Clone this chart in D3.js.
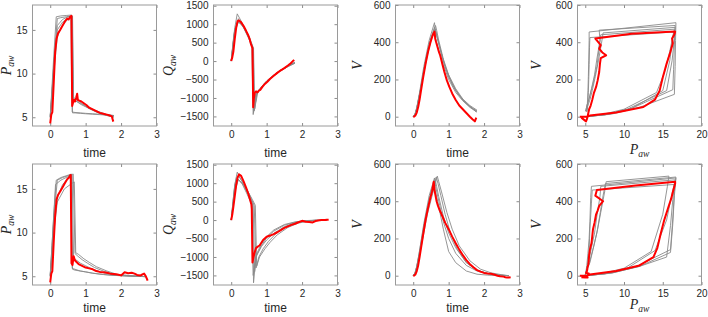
<!DOCTYPE html>
<html>
<head>
<meta charset="utf-8">
<script src="https://cdn.jsdelivr.net/npm/d3@7"></script>
<style>
  body { margin: 0; background: #fff; }
  .tick text { font-family: "Liberation Sans", Arial, sans-serif; font-size: 10px; fill: #262626; }
  .xlab { font-family: "Liberation Sans", Arial, sans-serif; font-size: 12px; fill: #262626; }
  .mlab { font-family: "Liberation Serif", "DejaVu Serif", serif; font-style: italic; fill: #262626; }
</style>
</head>
<body>
<svg id="fig" width="708" height="317"></svg>
<script>
// ---- tick labels ----
var timeTicks = [0, 1, 2, 3]
var pawTicks = [5, 10, 15]
var qawTicks = [-1500, -1000, -500, 0, 500, 1000, 1500]
var vTicks = [0, 200, 400, 600]
var pawLoopTicks = [5, 10, 15, 20]

// ---- top row: grey breaths (one inner array per breath) ----
var topGrayTime = [
  [0, 0.05, 0.1, 0.17, 0.3, 0.45, 0.6, 0.63, 0.7, 0.85, 1.0, 1.2, 1.4, 1.6, 1.8],
  [0, 0.05, 0.1, 0.2, 0.3, 0.45, 0.6, 0.65, 0.72, 0.85, 1.0, 1.2, 1.4, 1.6, 1.78],
  [0, 0.05, 0.1, 0.2, 0.3, 0.4, 0.5, 0.62, 0.66, 0.75, 0.9, 1.1, 1.3, 1.5, 1.7, 1.8],
  [0, 0.05, 0.1, 0.2, 0.35, 0.5, 0.58, 0.62, 0.7, 0.85, 1.0, 1.2, 1.4, 1.6, 1.8],
  [0, 0.05, 0.1, 0.2, 0.35, 0.5, 0.63, 0.66, 0.72, 0.85, 1.0, 1.2, 1.4, 1.6, 1.8]
]
var topGrayPaw = [
  [5.0, 8.5, 12.0, 16.5, 16.6, 16.65, 16.7, 5.5, 5.5, 5.45, 5.4, 5.35, 5.3, 5.25, 5.2],
  [5.1, 7.8, 11.0, 16.3, 16.4, 16.5, 16.6, 7.3, 7.1, 6.7, 6.3, 5.9, 5.6, 5.3, 5.1],
  [5.0, 7.0, 10.0, 14.2, 15.2, 15.8, 16.2, 16.5, 7.0, 6.8, 6.5, 6.0, 5.6, 5.3, 5.1, 5.0],
  [5.2, 8.0, 11.0, 15.0, 15.9, 16.3, 16.4, 5.6, 5.55, 5.5, 5.45, 5.4, 5.35, 5.3, 5.2],
  [5.0, 7.5, 10.5, 15.5, 16.2, 16.5, 16.6, 6.8, 6.9, 6.5, 6.2, 5.8, 5.5, 5.2, 5.1]
]
var topGrayQaw = [
  [0, 500, 900, 1280, 1050, 750, 400, -1400, -900, -720, -560, -400, -260, -150, -60],
  [0, 450, 850, 1150, 1000, 720, 380, -1350, -880, -700, -540, -380, -240, -130, -40],
  [0, 400, 800, 1050, 1000, 850, 650, 330, -1300, -850, -650, -470, -320, -190, -80, -30],
  [0, 450, 850, 1080, 900, 600, 400, -1450, -880, -700, -540, -380, -240, -130, -50],
  [0, 420, 820, 1100, 950, 680, 350, -1300, -900, -720, -560, -400, -260, -150, -50]
]
var topGrayV = [
  [0, 15, 50, 120, 270, 410, 505, 455, 410, 300, 215, 140, 90, 55, 30],
  [0, 12, 45, 145, 255, 390, 480, 450, 395, 300, 215, 140, 90, 55, 25],
  [0, 10, 40, 130, 235, 330, 410, 470, 440, 370, 270, 175, 115, 70, 40, 30],
  [0, 12, 45, 140, 300, 420, 455, 425, 370, 280, 200, 130, 85, 50, 25],
  [0, 10, 42, 140, 300, 420, 490, 465, 410, 310, 225, 150, 95, 60, 35]
]

// ---- top row: highlighted breath ----
var topRedTime = [0, 0.03, 0.06, 0.1, 0.14, 0.18, 0.22, 0.28, 0.35, 0.42, 0.48, 0.52, 0.56, 0.6, 0.61, 0.62, 0.64, 0.67, 0.7, 0.73, 0.76, 0.78, 0.82, 0.88, 0.95, 1.02, 1.1, 1.2, 1.3, 1.4, 1.5, 1.6, 1.68, 1.74, 1.78]
var topRedPaw = [4.3, 5.3, 5.6, 9.0, 12.5, 14.0, 14.6, 15.0, 15.5, 16.0, 16.3, 16.2, 16.5, 16.6, 11.0, 6.3, 6.6, 7.0, 6.8, 7.2, 7.7, 7.0, 6.9, 6.8, 6.6, 6.4, 6.1, 5.9, 5.7, 5.5, 5.4, 5.3, 5.2, 5.1, 4.5]
var topRedQaw = [0, 100, 250, 600, 900, 1080, 1100, 1050, 950, 820, 700, 600, 450, 350, -400, -1250, -1000, -850, -820, -850, -830, -800, -780, -700, -620, -560, -480, -400, -320, -250, -190, -120, -60, 0, 30]
var topRedV = [0, 1, 6, 22, 52, 92, 140, 210, 285, 350, 395, 420, 442, 457, 445, 420, 405, 385, 365, 345, 330, 315, 285, 240, 195, 160, 125, 90, 60, 40, 20, 0, -15, -25, -5]

// ---- bottom row: grey breaths ----
var botGrayTime = [
  [0, 0.05, 0.1, 0.17, 0.3, 0.45, 0.6, 0.63, 0.7, 0.85, 1.0, 1.2, 1.5, 1.8, 2.1, 2.4, 2.7],
  [0, 0.05, 0.1, 0.2, 0.4, 0.6, 0.68, 0.72, 0.8, 0.95, 1.1, 1.3, 1.6, 1.9, 2.2, 2.5, 2.7],
  [0, 0.05, 0.1, 0.2, 0.35, 0.5, 0.65, 0.7, 0.78, 0.9, 1.05, 1.25, 1.5, 1.8, 2.1, 2.4, 2.6],
  [0, 0.05, 0.1, 0.15, 0.3, 0.45, 0.58, 0.62, 0.7, 0.85, 1.0, 1.2, 1.5, 1.8, 2.1, 2.4],
  [0, 0.05, 0.1, 0.2, 0.35, 0.5, 0.62, 0.66, 0.72, 0.85, 1.0, 1.2, 1.5, 1.8, 2.1, 2.5, 2.7]
]
var botGrayPaw = [
  [5.0, 8.5, 12.0, 16.0, 16.3, 16.5, 16.7, 5.8, 5.7, 5.6, 5.5, 5.35, 5.2, 5.1, 5.05, 5.0, 4.95],
  [5.0, 7.0, 10.0, 13.5, 15.0, 15.6, 15.8, 7.7, 7.5, 7.0, 6.6, 6.1, 5.6, 5.2, 5.1, 5.0, 4.95],
  [5.1, 8.0, 11.5, 16.0, 16.3, 16.5, 16.7, 7.6, 7.3, 6.9, 6.5, 6.0, 5.6, 5.2, 5.1, 5.0, 5.0],
  [5.2, 8.5, 12.0, 15.5, 16.0, 16.3, 16.5, 5.9, 5.8, 5.6, 5.5, 5.35, 5.2, 5.1, 5.05, 5.0],
  [5.0, 7.5, 10.5, 14.0, 15.5, 16.2, 16.6, 7.0, 6.9, 6.5, 6.2, 5.8, 5.4, 5.15, 5.05, 5.0, 4.95]
]
var botGrayQaw = [
  [0, 500, 950, 1300, 1050, 750, 450, -1700, -1000, -700, -480, -300, -140, -60, -20, -5, 0],
  [0, 380, 750, 1100, 900, 550, 400, -1250, -1000, -780, -600, -400, -200, -80, -30, -10, 0],
  [0, 450, 900, 1200, 1000, 720, 400, -1300, -1000, -780, -580, -380, -200, -80, -25, -5, 0],
  [0, 500, 950, 1150, 1000, 700, 420, -1500, -950, -650, -450, -270, -120, -50, -15, 0],
  [0, 420, 820, 1100, 950, 680, 420, -1400, -950, -720, -540, -360, -180, -70, -20, -5, 0]
]
var botGrayV = [
  [0, 15, 50, 125, 280, 430, 525, 480, 420, 290, 200, 120, 55, 25, 10, 3, 0],
  [0, 10, 40, 130, 330, 480, 535, 505, 450, 340, 250, 160, 80, 35, 15, 5, 0],
  [0, 12, 48, 140, 310, 450, 530, 495, 430, 330, 230, 140, 70, 30, 12, 4, 0],
  [0, 15, 50, 100, 270, 410, 490, 460, 390, 250, 130, 70, 25, 8, 3, 0],
  [0, 10, 42, 135, 300, 440, 515, 480, 425, 320, 230, 150, 70, 30, 12, 3, 0]
]

// ---- bottom row: highlighted breath ----
var botRedTime = [0, 0.03, 0.06, 0.1, 0.14, 0.18, 0.22, 0.28, 0.35, 0.42, 0.48, 0.53, 0.57, 0.58, 0.59, 0.6, 0.63, 0.66, 0.7, 0.75, 0.8, 0.9, 1.0, 1.1, 1.2, 1.3, 1.4, 1.5, 1.6, 1.7, 1.8, 1.9, 2.0, 2.1, 2.2, 2.3, 2.38, 2.45, 2.55, 2.6, 2.65, 2.7, 2.75]
var botRedPaw = [4.3, 5.3, 5.6, 9.0, 12.0, 13.8, 14.3, 14.7, 15.2, 15.7, 16.1, 16.3, 16.6, 16.6, 11.5, 6.5, 6.3, 7.3, 6.8, 6.6, 6.4, 6.2, 6.0, 5.9, 5.8, 5.6, 5.5, 5.45, 5.4, 5.3, 5.25, 5.2, 5.1, 5.45, 5.35, 5.4, 5.3, 5.15, 5.1, 5.2, 5.3, 5.0, 4.5]
var botRedQaw = [0, 150, 350, 650, 950, 1150, 1240, 1200, 1050, 880, 720, 560, 420, 300, -400, -1150, -1000, -880, -760, -720, -690, -540, -450, -420, -380, -330, -270, -210, -170, -130, -100, -60, -20, -45, -55, -63, -27, -10, 0, 5, 0, 10, 10]
var botRedV = [0, 1, 6, 25, 55, 100, 148, 220, 300, 365, 415, 450, 495, 505, 485, 460, 430, 400, 375, 350, 330, 285, 250, 210, 174, 140, 110, 84, 62, 45, 30, 22, 15, 12, 10, 5, 0, -3, -5, -8, -10, -10, -8]

// ---- layout ----
var svg = d3.select('svg#fig')
var rowTop = [5, 164]
var xLabelGap = [31, 27]
var colLeft = [32.5, 213.5, 395.5, 577.5]
var boxW = 124, boxH = 121
var yLabelX = [-22, -41, -34, -37]

var panels = [
  {x: 't', y: 'p', xd: [-0.5, 3], yd: [4, 17.85], xt: timeTicks, yt: pawTicks, xl: 'time', yl: ['P', 'aw']},
  {x: 't', y: 'q', xd: [-0.5, 3], yd: [-1760, 1520], xt: timeTicks, yt: qawTicks, xl: 'time', yl: ['Q', 'aw']},
  {x: 't', y: 'v', xd: [-0.5, 3], yd: [-50, 600], xt: timeTicks, yt: vTicks, xl: 'time', yl: ['V', '']},
  {x: 'p', y: 'v', xd: [4, 20], yd: [-50, 600], xt: pawLoopTicks, yt: vTicks, xl: ['P', 'aw'], yl: ['V', '']}
]

function toPoints(t, p, q, v) {
  return t.map(function(d, i) { return {t: d, p: p[i], q: q[i], v: v[i]} })
}

var rows = [
  {
    gray: topGrayTime.map(function(t, k) { return toPoints(t, topGrayPaw[k], topGrayQaw[k], topGrayV[k]) }),
    red: toPoints(topRedTime, topRedPaw, topRedQaw, topRedV)
  },
  {
    gray: botGrayTime.map(function(t, k) { return toPoints(t, botGrayPaw[k], botGrayQaw[k], botGrayV[k]) }),
    red: toPoints(botRedTime, botRedPaw, botRedQaw, botRedV)
  }
]

function mathLabel(sel, parts, size) {
  sel.attr('class', 'mlab').style('font-size', size + 'px')
  sel.append('tspan').text(parts[0])
  if (parts[1]) {
    sel.append('tspan').attr('dy', 3).style('font-size', (size * 0.68) + 'px').text(parts[1])
  }
}

rows.forEach(function(row, r) {
  panels.forEach(function(pn, c) {
    var g = svg.append('g')
      .attr('transform', 'translate(' + colLeft[c] + ',' + rowTop[r] + ')')

    var xScale = d3.scaleLinear().domain(pn.xd).range([0, boxW])
    var yScale = d3.scaleLinear().domain(pn.yd).range([boxH, 0])

    var clipId = 'clip' + r + c
    g.append('clipPath').attr('id', clipId)
      .append('rect').attr('width', boxW).attr('height', boxH)

    // inward ticks on all four sides (matlab box on)
    var axes = [
      [d3.axisBottom(xScale).tickValues(pn.xt).tickFormat(d3.format('d')), 'translate(0,' + boxH + ')', true],
      [d3.axisTop(xScale).tickValues(pn.xt).tickFormat(''), null, false],
      [d3.axisLeft(yScale).tickValues(pn.yt).tickFormat(d3.format('d')), null, true],
      [d3.axisRight(yScale).tickValues(pn.yt).tickFormat(''), 'translate(' + boxW + ',0)', false]
    ]
    axes.forEach(function(a) {
      var ax = g.append('g').call(a[0].tickSize(-3).tickPadding(a[2] ? 5 : 0))
      if (a[1]) ax.attr('transform', a[1])
      ax.select('.domain').remove()
      ax.selectAll('.tick line').attr('stroke', '#8c8c8c')
    })

    g.append('rect')
      .attr('width', boxW).attr('height', boxH)
      .attr('fill', 'none').attr('stroke', '#9a9a9a').attr('stroke-width', 1)

    var line = d3.line()
      .x(function(d) { return xScale(d[pn.x]) })
      .y(function(d) { return yScale(d[pn.y]) })

    var plot = g.append('g').attr('clip-path', 'url(#' + clipId + ')')
    plot.selectAll('.grayline')
      .data(row.gray)
      .enter()
      .append('path')
      .attr('class', 'grayline')
      .attr('d', line)
      .attr('fill', 'none')
      .attr('stroke', '#8a8a8a')
      .attr('stroke-width', 0.9)
      .attr('stroke-linejoin', 'round')

    plot.append('path')
      .datum(row.red)
      .attr('d', line)
      .attr('fill', 'none')
      .attr('stroke', '#ff0000')
      .attr('stroke-width', 2)
      .attr('stroke-linejoin', 'round')

    // x label
    var xl = g.append('text')
      .attr('x', boxW / 2)
      .attr('y', boxH + xLabelGap[r])
      .attr('text-anchor', 'middle')
    if (typeof pn.xl === 'string') {
      xl.attr('class', 'xlab').text(pn.xl)
    } else {
      mathLabel(xl, pn.xl, 14)
      xl.attr('y', boxH + xLabelGap[r] - 3)
    }

    // y label
    var yl = g.append('text')
      .attr('text-anchor', 'middle')
      .attr('transform', 'translate(' + yLabelX[c] + ',' + (boxH / 2) + ') rotate(-90)')
    mathLabel(yl, pn.yl, 14)
  })
})
</script>
</body>
</html>
